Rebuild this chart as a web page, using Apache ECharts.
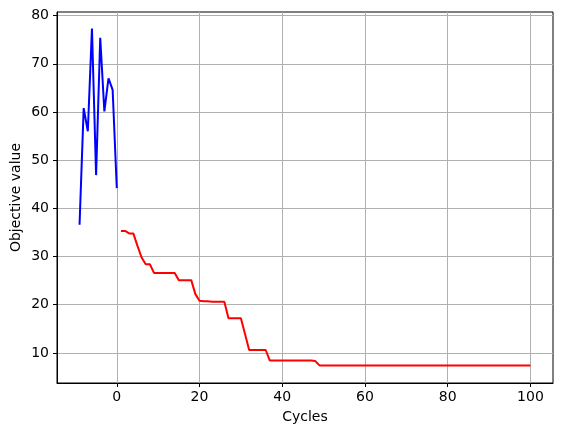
<!DOCTYPE html>
<html>
<head>
<meta charset="utf-8">
<script src="https://cdn.jsdelivr.net/npm/echarts@6/dist/echarts.min.js"></script>
<style>html,body{margin:0;padding:0;background:#fff;}#c{width:562px;height:435px;}</style>
</head>
<body>
<div id="c"></div>
<script>
var blueX = [-9, -8, -7, -6, -5, -4, -3, -2, -1, 0];
var blueY = [36.6, 60.8, 56.0, 77.3, 46.9, 75.4, 60.1, 67.0, 64.6, 44.2];
var redX = [];
for (var i = 1; i <= 100; i++) redX.push(i);
var redY = [
  35.3, 35.3, 34.8, 34.8, 32.2, 29.8, 28.4, 28.4, 26.6, 26.6,
  26.6, 26.6, 26.6, 26.6, 25.1, 25.1, 25.1, 25.1, 22.2, 20.8,
  20.7, 20.7, 20.6, 20.6, 20.6, 20.6, 17.2, 17.2, 17.2, 17.2,
  13.9, 10.6, 10.6, 10.6, 10.6, 10.6, 8.4, 8.4, 8.4, 8.4,
  8.4, 8.4, 8.4, 8.4, 8.4, 8.4, 8.4, 8.3, 7.4, 7.4,
  7.4, 7.4, 7.4, 7.4, 7.4, 7.4, 7.4, 7.4, 7.4, 7.4,
  7.4, 7.4, 7.4, 7.4, 7.4, 7.4, 7.4, 7.4, 7.4, 7.4,
  7.4, 7.4, 7.4, 7.4, 7.4, 7.4, 7.4, 7.4, 7.4, 7.4,
  7.4, 7.4, 7.4, 7.4, 7.4, 7.4, 7.4, 7.4, 7.4, 7.4,
  7.4, 7.4, 7.4, 7.4, 7.4, 7.4, 7.4, 7.4, 7.4, 7.4
];
var xTicks = [0, 20, 40, 60, 80, 100];
var yTicks = [10, 20, 30, 40, 50, 60, 70, 80];

function pairs(xs, ys) { return xs.map(function (x, i) { return [x, ys[i]]; }); }

var chart = echarts.init(document.getElementById('c'), null, {renderer: 'canvas'});
var font = 'DejaVu Sans';
chart.setOption({
  animation: false,
  backgroundColor: '#fff',
  grid: {left: 57, right: 9, top: 12, bottom: 52, show: true, borderColor: '#000', borderWidth: 1, backgroundColor: 'transparent', containLabel: false, outerBoundsMode: 'none'},
  xAxis: {
    type: 'value', min: -14.45, max: 105.45,
    name: 'Cycles', nameLocation: 'middle', nameGap: 27, nameMoveOverlap: false,
    nameTextStyle: {fontFamily: font, fontSize: 14, color: '#000'},
    axisLine: {show: true, onZero: false, lineStyle: {color: '#000', width: 1}},
    axisTick: {show: true, inside: false, length: 4, customValues: xTicks, lineStyle: {color: '#000', width: 1}},
    axisLabel: {customValues: xTicks, margin: 7, fontFamily: font, fontSize: 14, color: '#000'},
    splitLine: {show: true, lineStyle: {color: '#b0b0b0', width: 1}}
  },
  yAxis: {
    type: 'value', min: 3.75, max: 80.75,
    name: 'Objective value', nameLocation: 'middle', nameGap: 34, nameRotate: 90, nameMoveOverlap: false,
    nameTextStyle: {fontFamily: font, fontSize: 14, color: '#000'},
    axisLine: {show: true, onZero: false, lineStyle: {color: '#000', width: 1}},
    axisTick: {show: true, inside: false, length: 4, customValues: yTicks, lineStyle: {color: '#000', width: 1}},
    axisLabel: {customValues: yTicks, margin: 8, fontFamily: font, fontSize: 14, color: '#000'},
    splitLine: {show: true, lineStyle: {color: '#b0b0b0', width: 1}}
  },
  series: [
    {type: 'line', data: pairs(blueX, blueY), showSymbol: false, symbol: 'none', lineStyle: {color: '#0000ff', width: 2}, z: 3},
    {type: 'line', data: pairs(redX, redY), showSymbol: false, symbol: 'none', lineStyle: {color: '#ff0000', width: 2}, z: 3}
  ]
});
</script>
</body>
</html>
